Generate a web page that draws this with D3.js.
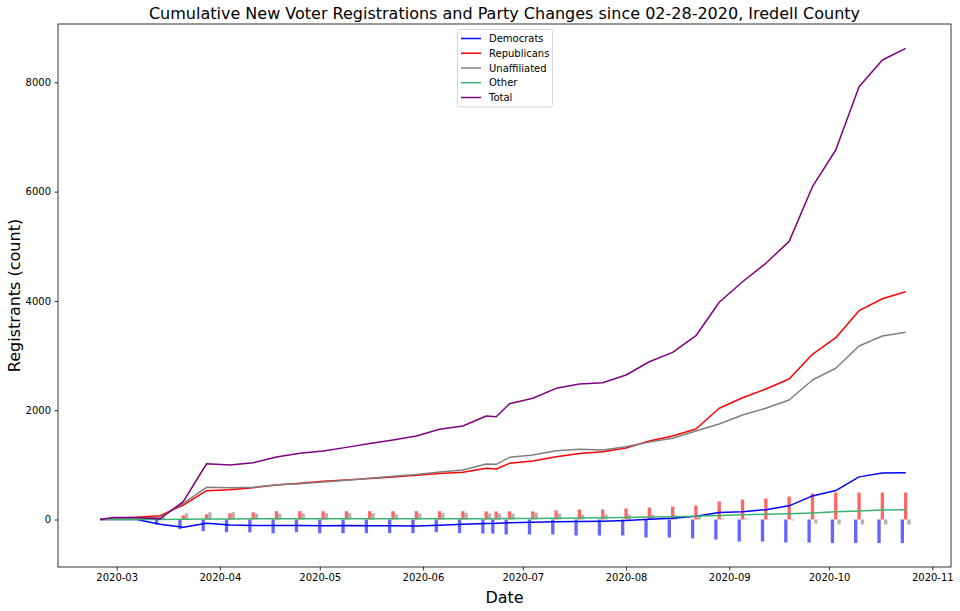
<!DOCTYPE html>
<html>
<head>
<meta charset="utf-8">
<script src="https://cdn.jsdelivr.net/npm/d3@7"></script>
<style>
html,body{margin:0;padding:0;background:#fff;}
svg{display:block;font-family:"DejaVu Sans",sans-serif;}
</style>
</head>
<body>
<svg id="chart" width="960" height="611"></svg>
<script>
const dates = ["2020-02-25","2020-02-29","2020-03-07","2020-03-14","2020-03-21","2020-03-28","2020-04-04","2020-04-11","2020-04-18","2020-04-25","2020-05-02","2020-05-09","2020-05-16","2020-05-23","2020-05-30","2020-06-06","2020-06-13","2020-06-20","2020-06-23","2020-06-27","2020-07-04","2020-07-11","2020-07-18","2020-07-25","2020-08-01","2020-08-08","2020-08-15","2020-08-22","2020-08-29","2020-09-05","2020-09-12","2020-09-19","2020-09-26","2020-10-03","2020-10-10","2020-10-17","2020-10-24"];

const democrats = [0,5,0,-88,-143,-70,-100,-110,-110,-110,-115,-110,-115,-112,-118,-105,-85,-72,-70,-60,-50,-42,-36,-30,-18,5,22,60,128,140,180,250,432,530,780,850,855];
const republicans = [0,20,40,70,265,527,545,582,631,662,699,724,752,780,808,840,865,937,924,1028,1070,1150,1210,1240,1310,1435,1528,1656,2035,2229,2388,2571,3023,3327,3821,4040,4168];
const unaffiliated = [0,15,20,40,296,589,582,589,637,655,686,720,755,790,825,870,905,1015,1010,1138,1180,1259,1285,1270,1330,1420,1486,1620,1748,1912,2035,2187,2553,2767,3175,3358,3426];
const other = [0,0,0,0,5,10,10,12,12,12,13,13,14,14,15,15,15,16,16,18,20,24,27,30,35,45,50,60,75,85,95,105,120,140,155,172,180];
const total = [0,37,37,9,329,1020,997,1039,1144,1211,1253,1320,1390,1455,1528,1650,1711,1894,1881,2119,2218,2400,2479,2503,2644,2887,3059,3363,3975,4351,4688,5090,6090,6761,7920,8408,8622];

const barDemocrats = [0,0,0,-90,-175,-213,-232,-235,-253,-232,-250,-250,-250,-250,-250,-232,-250,-256,-256,-274,-274,-274,-293,-293,-293,-329,-329,-345,-366,-403,-403,-421,-421,-432,-432,-432,-432];
const barRepublicans = [0,0,0,20,77,95,113,131,152,152,152,152,152,152,152,152,152,148,148,148,148,165,183,183,201,219,238,256,329,366,384,421,476,494,494,494,494];
const barUnaffiliated = [0,0,0,40,116,134,134,107,107,116,116,116,116,98,116,116,116,110,110,110,128,110,91,91,91,91,73,50,18,18,5,-18,-73,-91,-91,-91,-91];

const yTicks = [0,2000,4000,6000,8000];
const yLimits = [-869, 9067];
const seriesNames = ["Democrats","Republicans","Unaffiliated","Other","Total"];
const seriesColors = ["blue","red","gray","#3cb371","purple"];

const svg = d3.select("#chart");
const M = {left:58, right:951, top:24, bottom:567};
const parse = d3.timeParse("%Y-%m-%d");
const D = dates.map(parse);
const DAY = 864e5;

const mar1 = parse("2020-03-01"), nov1 = parse("2020-11-01");
const xs = new Date(mar1.getTime() - 17.63*DAY);
const xe = new Date(nov1.getTime() + 5.62*DAY);
const x = d3.scaleTime().domain([xs, xe]).range([M.left, M.right]);
const y = d3.scaleLinear().domain(yLimits).range([M.bottom, M.top]);

const off = (d, k) => new Date(d.getTime() + k*DAY);

// bars
const barSets = [
  {vals: barDemocrats, k:-1, color:"rgba(0,0,255,0.6)"},
  {vals: barRepublicans, k:0, color:"rgba(255,0,0,0.6)"},
  {vals: barUnaffiliated, k:1, color:"rgba(128,128,128,0.6)"}
];
const gBars = svg.append("g");
barSets.forEach(bs => {
  gBars.selectAll(null).data(D).enter().append("rect")
    .attr("x", (d) => x(off(d, bs.k-0.5)))
    .attr("width", (d) => x(off(d, bs.k+0.5)) - x(off(d, bs.k-0.5)))
    .attr("y", (d,i) => Math.min(y(0), y(bs.vals[i])))
    .attr("height", (d,i) => Math.abs(y(bs.vals[i]) - y(0)))
    .attr("fill", bs.color);
});

// lines
const allSeries = [democrats, republicans, unaffiliated, other, total];
const line = d3.line().x((d,i) => x(D[i])).y(d => y(d));
allSeries.forEach((s, j) => {
  svg.append("path").datum(s)
    .attr("d", line)
    .attr("fill","none")
    .attr("stroke", seriesColors[j])
    .attr("stroke-width",1.5)
    .attr("stroke-linejoin","round");
});

// axes
const xAxis = d3.axisBottom(x).ticks(d3.timeMonth.every(1)).tickFormat(d3.timeFormat("%Y-%m")).tickSizeOuter(0).tickSize(3.5).tickPadding(3.5);
const gx = svg.append("g").attr("transform",`translate(0,${M.bottom})`).call(xAxis);
const yAxis = d3.axisLeft(y).tickValues(yTicks).tickFormat(d3.format("d")).tickSizeOuter(0).tickSize(3.5).tickPadding(3.5);
const gy = svg.append("g").attr("transform",`translate(${M.left},0)`).call(yAxis);
[gx, gy].forEach(g => {
  g.select(".domain").remove();
  g.selectAll("text").attr("font-size","10px").attr("font-family","DejaVu Sans, sans-serif").attr("fill","#000");
  g.selectAll("line").attr("stroke","#000").attr("stroke-width",0.8);
});

// frame
svg.append("rect").attr("x",M.left).attr("y",M.top)
  .attr("width",M.right-M.left).attr("height",M.bottom-M.top)
  .attr("fill","none").attr("stroke","#000").attr("stroke-width",0.8);

// title and labels
svg.append("text").attr("x",(M.left+M.right)/2).attr("y",19)
  .attr("text-anchor","middle").attr("font-size","16px")
  .text("Cumulative New Voter Registrations and Party Changes since 02-28-2020, Iredell County");
svg.append("text").attr("x",(M.left+M.right)/2).attr("y",603)
  .attr("text-anchor","middle").attr("font-size","16px").text("Date");
svg.append("text").attr("transform",`translate(20,${(M.top+M.bottom)/2}) rotate(-90)`)
  .attr("text-anchor","middle").attr("font-size","16px").text("Registrants (count)");

// legend
const lg = svg.append("g");
lg.append("rect").attr("x",457.5).attr("y",29.5).attr("width",95).attr("height",77.5)
  .attr("rx",2.5).attr("fill","rgba(255,255,255,0.8)").attr("stroke","#d6d6d6").attr("stroke-width",1);
seriesNames.forEach((n, i) => {
  const cy = 38.5 + i*14.75;
  lg.append("line").attr("x1",461).attr("x2",481).attr("y1",cy).attr("y2",cy)
    .attr("stroke",seriesColors[i]).attr("stroke-width",1.5);
  lg.append("text").attr("x",489).attr("y",cy+3.6).attr("font-size","10px").text(n);
});
</script>
</body>
</html>
